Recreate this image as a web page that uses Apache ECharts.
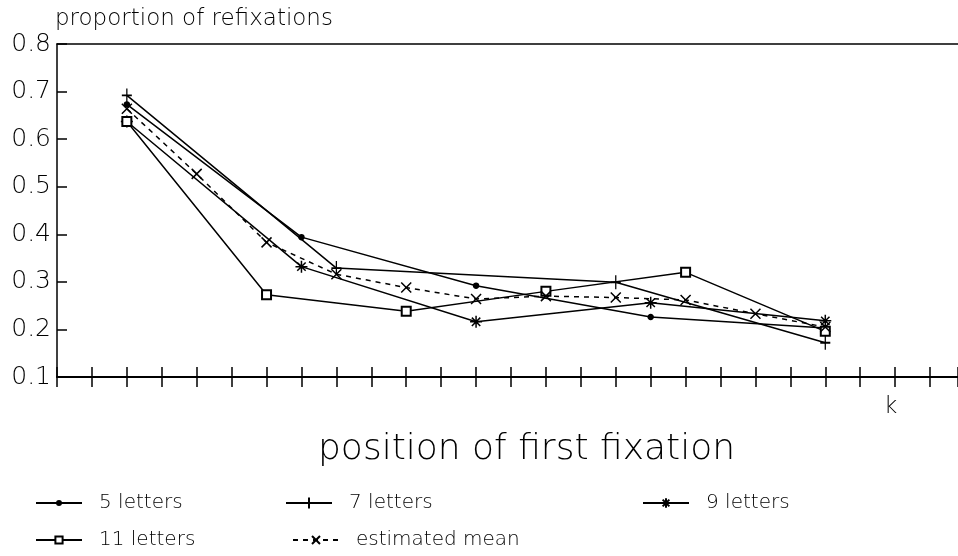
<!DOCTYPE html>
<html>
<head>
<meta charset="utf-8">
<title>proportion of refixations</title>
<script src="https://cdn.jsdelivr.net/npm/echarts@6/dist/echarts.min.js"></script>
<style>
  html, body { margin: 0; padding: 0; background: #fff; }
  #chart { width: 958px; height: 556px; }
</style>
</head>
<body>
<div id="chart"></div>
<script>
// positions are in tick units along the k axis
const pos5 = [2, 7, 12, 17, 22];
const val5 = [0.673, 0.394, 0.292, 0.226, 0.203];

const pos7 = [2, 8, 16, 22];
const val7 = [0.692, 0.329, 0.299, 0.172];

const pos9 = [2, 7, 12, 17, 22];
const val9 = [0.637, 0.332, 0.216, 0.256, 0.218];

const pos11 = [2, 6, 10, 14, 18, 22];
const val11 = [0.637, 0.273, 0.238, 0.28, 0.32, 0.196];

const posMean = [2, 4, 6, 8, 10, 12, 14, 16, 18, 20, 22];
const valMean = [0.664, 0.527, 0.383, 0.316, 0.288, 0.264, 0.27, 0.267, 0.262, 0.233, 0.205];

const yTicks = [0.1, 0.2, 0.3, 0.4, 0.5, 0.6, 0.7, 0.8];

const font = "'DejaVu Sans', 'Liberation Sans', sans-serif";

function zip(xs, ys) {
  return xs.map((x, i) => [x, ys[i]]);
}

const plusPath = "path://M0,6L10,6M5,0L5,12";
const starPath = "path://M0,5L10,5M5,0L5,10M1.5,1.5L8.5,8.5M8.5,1.5L1.5,8.5";
const crossPath = "path://M0,0L10,10M10,0L0,10";

function makeSeries(name, data, symbol, size, dashed) {
  return {
    name: name,
    type: "line",
    xAxisIndex: 0,
    data: data,
    symbol: symbol,
    symbolSize: size,
    showAllSymbol: true,
    animation: false,
    lineStyle: { color: "#000", width: 1.5, type: dashed ? [5, 5] : "solid" },
    itemStyle: { color: "#000", borderColor: "#000", borderWidth: 1.5 },
  };
}

// one legend per entry so each can sit where the original puts it
function legendAt(name, left, top, iconH) {
  return {
    data: [name],
    left: left,
    top: top,
    padding: 0,
    itemWidth: 46,
    itemHeight: iconH,
    selectedMode: false,
    textStyle: {
      fontFamily: font,
      fontWeight: 200,
      fontSize: 20,
      color: "#000",
      padding: [0, 0, 0, 12],
    },
  };
}

const baseX = {
  type: "value",
  min: 0,
  max: 25.8,
  interval: 1,
  splitLine: { show: false },
  axisLabel: { show: false },
};

const chart = echarts.init(document.getElementById("chart"));

const option = {
  backgroundColor: "#fff",
  animation: false,
  grid: { left: 57, right: 0, top: 44, bottom: 179 },
  xAxis: [
    Object.assign({}, baseX, {
      position: "bottom",
      axisLine: { show: true, lineStyle: { color: "#000", width: 2 } },
      axisTick: { show: true, inside: true, length: 10, lineStyle: { color: "#000", width: 1.5 } },
    }),
    Object.assign({}, baseX, {
      position: "bottom",
      axisLine: { show: false },
      axisTick: { show: true, inside: false, length: 10, lineStyle: { color: "#000", width: 1.5 } },
    }),
    Object.assign({}, baseX, {
      position: "top",
      axisLine: { show: true, lineStyle: { color: "#000", width: 1.5 } },
      axisTick: { show: false },
    }),
  ],
  yAxis: {
    type: "value",
    min: yTicks[0],
    max: yTicks[yTicks.length - 1],
    interval: 0.1,
    name: "proportion of refixations",
    nameLocation: "end",
    nameGap: 13,
    nameTextStyle: {
      fontFamily: font,
      fontWeight: 200,
      fontSize: 23,
      color: "#000",
      align: "left",
      padding: [0, 0, 0, -2],
    },
    splitLine: { show: false },
    axisLine: { show: true, lineStyle: { color: "#000", width: 1.5 } },
    axisTick: { show: true, inside: true, length: 10, lineStyle: { color: "#000", width: 1.5 } },
    axisLabel: {
      fontFamily: font,
      fontWeight: 200,
      fontSize: 25,
      color: "#000",
      margin: 6,
      formatter: (v) => v.toFixed(1),
    },
  },
  legend: [
    legendAt("5 letters", 35, 493, 5),
    legendAt("7 letters", 285, 493, 14),
    legendAt("9 letters", 642, 493, 12),
    legendAt("11 letters", 35, 530, 9),
    legendAt("estimated mean", 292, 530, 10),
  ],
  graphic: [
    {
      type: "text",
      left: 884,
      top: 396,
      style: { text: "k", font: "200 23px " + font, fill: "#000" },
    },
    {
      type: "text",
      left: 318,
      top: 432,
      style: { text: "position of first fixation", font: "200 36px " + font, fill: "#000" },
    },
  ],
  series: [
    makeSeries("5 letters", zip(pos5, val5), "circle", 5, false),
    makeSeries("7 letters", zip(pos7, val7), plusPath, [10, 14], false),
    makeSeries("9 letters", zip(pos9, val9), starPath, 12, false),
    makeSeries("11 letters", zip(pos11, val11), "emptyRect", 9, false),
    makeSeries("estimated mean", zip(posMean, valMean), crossPath, 10, true),
  ],
};

chart.setOption(option);
</script>
</body>
</html>
